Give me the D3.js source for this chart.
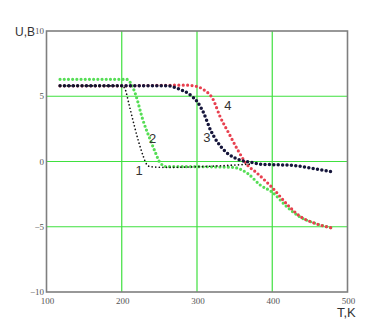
<!doctype html>
<html>
<head>
<meta charset="utf-8">
<style>
  html, body { margin: 0; padding: 0; background: #fff; }
  svg { display: block; }
</style>
<script src="https://cdnjs.cloudflare.com/ajax/libs/d3/7.8.5/d3.min.js"></script>
</head>
<body>
<script>
// values: temperature T (K) and voltage U (V)
var t1 = [118, 150, 200, 204, 210, 216, 222, 228, 233, 238, 260, 300, 340, 370];
var u1 = [5.8, 5.8, 5.8, 5.6, 4.3, 2.9, 1.6, 0.5, -0.2, -0.4, -0.45, -0.4, -0.3, -0.2];

var t2 = [118, 170, 206, 212, 218, 228, 238, 245, 251, 260, 300, 348, 367, 384, 400, 420, 437, 455, 480];
var u2 = [6.3, 6.3, 6.3, 6.0, 5.2, 3.2, 1.65, 0.65, -0.1, -0.4, -0.4, -0.45, -0.9, -1.8, -2.35, -3.5, -4.25, -4.7, -5.1];

var t3 = [118, 200, 260, 274, 291, 300, 309, 318, 327, 340, 358, 375, 384, 428, 451, 480];
var u3 = [5.8, 5.8, 5.8, 5.6, 5.1, 4.6, 3.7, 2.4, 1.5, 0.65, 0.1, -0.1, -0.2, -0.3, -0.5, -0.8];

var t4 = [118, 200, 285, 296, 309, 321, 331, 342, 354, 367, 378, 393, 400, 420, 437, 455, 480];
var u4 = [5.8, 5.8, 5.85, 5.8, 5.5, 4.8, 3.4, 2.2, 0.9, -0.27, -0.8, -1.6, -2.0, -3.3, -4.2, -4.7, -5.1];

var xTicks = [100, 200, 300, 400, 500];
var yTicks = [10, 5, 0, -5, -10];
var xGrid = [200, 300, 400];
var yGrid = [5, 0, -5];
var curveLabels = ["1", "2", "3", "4"];
var labelAt = [[223, -0.65], [241, 1.8], [313, 1.9], [341, 4.3]];

var W = 377, H = 335;
var svg = d3.select("body").append("svg").attr("width", W).attr("height", H);

var x = d3.scaleLinear().domain([100, 500]).range([46.5, 347.5]);
var y = d3.scaleLinear().domain([-10, 10]).range([292, 31]);

// grid
svg.selectAll(".gx").data(xGrid).enter().append("line")
    .attr("x1", function (d) { return x(d); }).attr("x2", function (d) { return x(d); })
    .attr("y1", y(10)).attr("y2", y(-10))
    .style("stroke", "#3fe03f").style("stroke-width", 1.2);
svg.selectAll(".gy").data(yGrid).enter().append("line")
    .attr("x1", x(100)).attr("x2", x(500))
    .attr("y1", function (d) { return y(d); }).attr("y2", function (d) { return y(d); })
    .style("stroke", "#3fe03f").style("stroke-width", 1.2);

// frame
svg.append("rect")
    .attr("x", x(100)).attr("y", y(10))
    .attr("width", x(500) - x(100)).attr("height", y(-10) - y(10))
    .style("fill", "none").style("stroke", "#7f7f7f").style("stroke-width", 1.6);

// tick labels
svg.selectAll(".xt").data(xTicks).enter().append("text")
    .attr("x", function (d) { return x(d) + 1; }).attr("y", 304)
    .attr("text-anchor", "middle")
    .style("font-family", "Liberation Serif").style("font-size", "9px").style("fill", "#555")
    .text(function (d) { return d; });
svg.selectAll(".yt").data(yTicks).enter().append("text")
    .attr("x", 44).attr("y", function (d) { return y(d) + 3; })
    .attr("text-anchor", "end")
    .style("font-family", "Liberation Serif").style("font-size", "9px").style("fill", "#555")
    .text(function (d) { return d < 0 ? "\u2212" + Math.abs(d) : d; });

// axis titles
svg.append("text").attr("x", 15).attr("y", 36)
    .style("font-family", "Liberation Sans").style("font-size", "12px").style("fill", "#333")
    .text("U,B");
svg.append("text").attr("x", 337).attr("y", 317)
    .style("font-family", "Liberation Sans").style("font-size", "13px").style("fill", "#333")
    .text("T,K");

var line = d3.line()
    .x(function (d) { return x(d[0]); })
    .y(function (d) { return y(d[1]); })
    .curve(d3.curveMonotoneX);

function zip(a, b) { return a.map(function (v, i) { return [v, b[i]]; }); }

var series = [
    { pts: zip(t2, u2), color: "#55dd55", w: 3.2, gap: 4.2 },
    { pts: zip(t4, u4), color: "#e8404f", w: 3.2, gap: 4.4 },
    { pts: zip(t3, u3), color: "#15153a", w: 3.5, gap: 4.4 },
    { pts: zip(t1, u1), color: "#111", w: 1.7, gap: 3.6 }
];

svg.selectAll(".curve").data(series).enter().append("path")
    .attr("d", function (d) { return line(d.pts); })
    .style("fill", "none")
    .style("stroke", function (d) { return d.color; })
    .style("stroke-width", function (d) { return d.w; })
    .style("stroke-linecap", "round")
    .style("stroke-dasharray", function (d) { return "0 " + d.gap; });

svg.selectAll(".lbl").data(curveLabels).enter().append("text")
    .attr("x", function (d, i) { return x(labelAt[i][0]); })
    .attr("y", function (d, i) { return y(labelAt[i][1]) + 5; })
    .attr("text-anchor", "middle")
    .style("font-family", "Liberation Sans").style("font-size", "13px").style("fill", "#333")
    .text(function (d) { return d; });
</script>
</body>
</html>
